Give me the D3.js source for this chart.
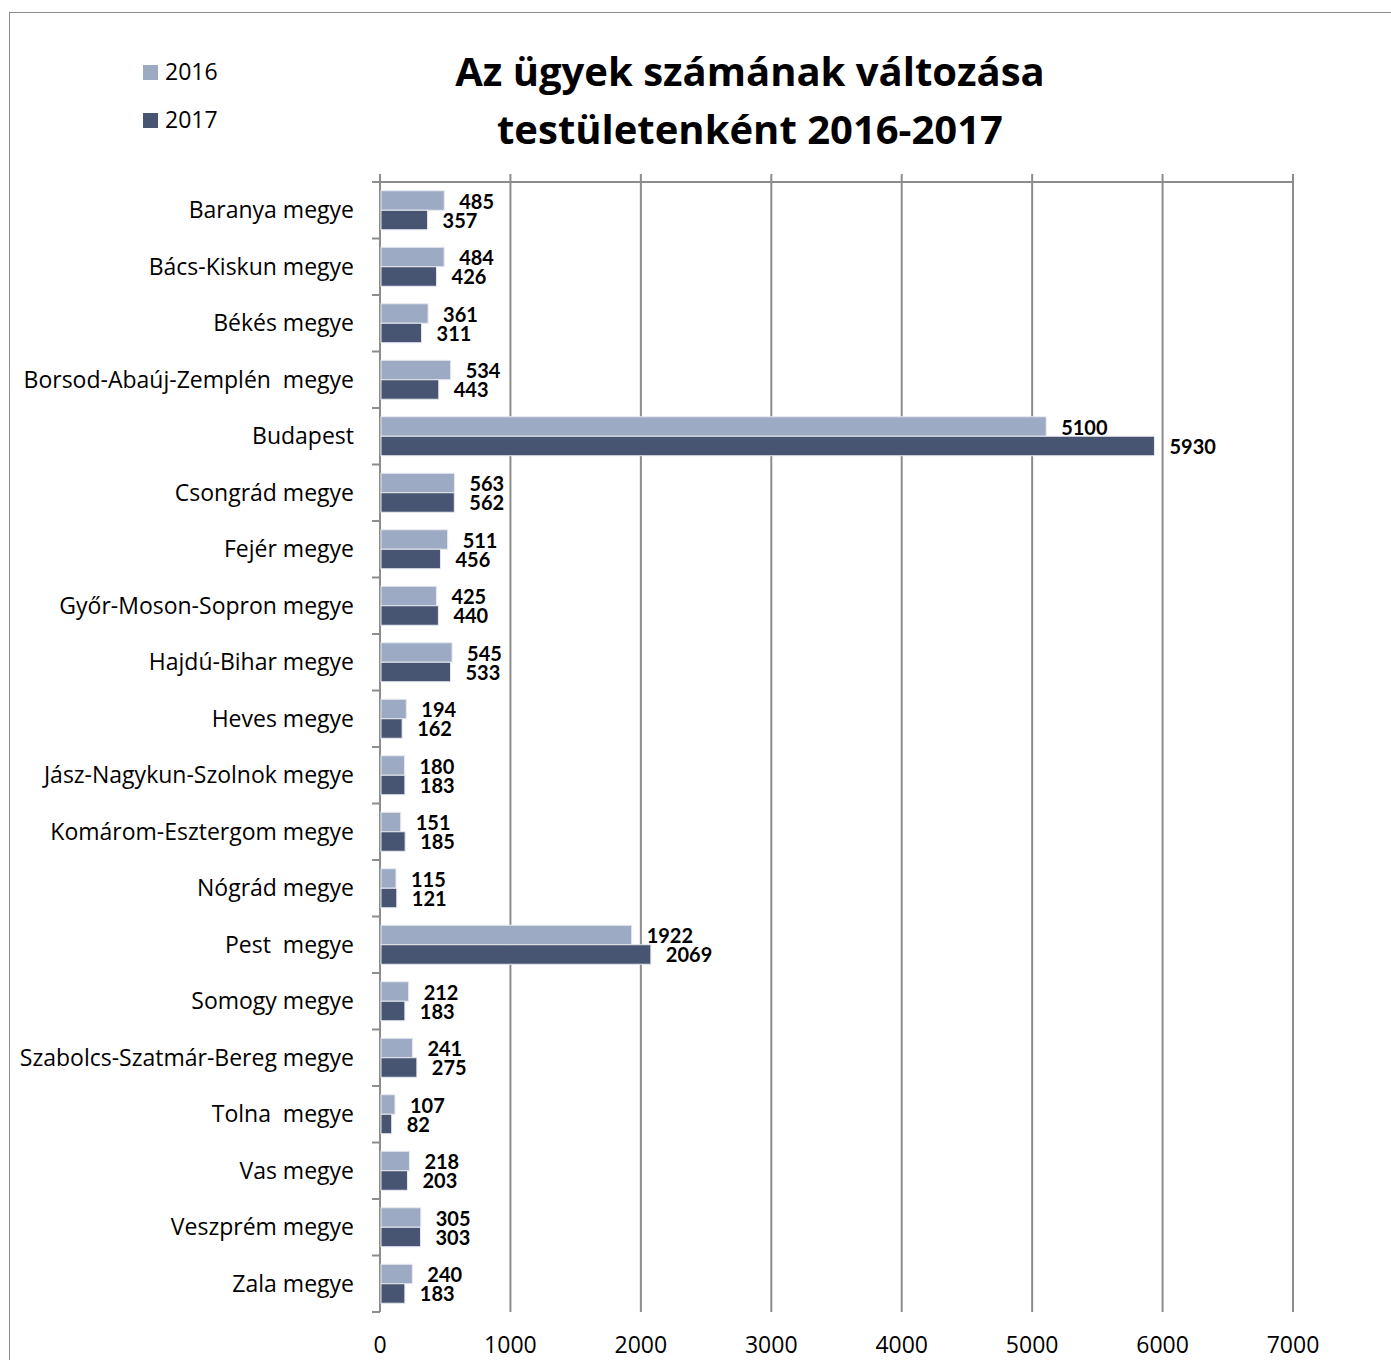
<!DOCTYPE html>
<html>
<head>
<meta charset="utf-8">
<script src="https://cdn.jsdelivr.net/npm/d3@7"></script>
<style>
    body { margin: 0; background: #fff; }
    svg text { font-family: "Open Sans", Lato, sans-serif; }
    .catLabel { font-size: 23px; fill: #000; white-space: pre; }
    .valLabel { font-family: Lato, sans-serif !important; font-size: 20px; font-weight: bold; fill: #000; }
    .tickLabel { font-size: 23px; fill: #000; }
    .chartTitle { font-size: 40px; font-weight: bold; fill: #000; }
    .legendText { font-size: 23px; fill: #000; }
</style>
</head>
<body>
<script>
//chart data
var categories = ["Baranya megye", "Bács-Kiskun megye", "Békés megye", "Borsod-Abaúj-Zemplén  megye",
    "Budapest", "Csongrád megye", "Fejér megye", "Győr-Moson-Sopron megye", "Hajdú-Bihar megye",
    "Heves megye", "Jász-Nagykun-Szolnok megye", "Komárom-Esztergom megye", "Nógrád megye",
    "Pest  megye", "Somogy megye", "Szabolcs-Szatmár-Bereg megye", "Tolna  megye", "Vas megye",
    "Veszprém megye", "Zala megye"];
var values2016 = [485, 484, 361, 534, 5100, 563, 511, 425, 545, 194, 180, 151, 115, 1922, 212, 241, 107, 218, 305, 240];
var values2017 = [357, 426, 311, 443, 5930, 562, 456, 440, 533, 162, 183, 185, 121, 2069, 183, 275, 82, 203, 303, 183];
var seriesNames = ["2016", "2017"];
var tickValues = [0, 1000, 2000, 3000, 4000, 5000, 6000, 7000];
var titleLines = ["Az ügyek számának változása", "testületenként 2016-2017"];

(function(){
    var width = 1391, height = 1360;
    var colors = ["#9daac3", "#475573"];

    var svg = d3.select("body").append("svg")
        .attr("width", width)
        .attr("height", height);

    //outer chart frame
    svg.append("rect")
        .attr("x", 9.5).attr("y", 12.5)
        .attr("width", 1400).attr("height", 1400)
        .attr("fill", "none")
        .attr("stroke", "#8c8c8c")
        .attr("stroke-width", 1);

    //plot area
    var left = 380, right = 1293, top = 182, bottom = 1312;

    var x = d3.scaleLinear().domain([0, 7000]).range([left, right]);
    var y = d3.scaleBand().domain(categories).range([top, bottom]).paddingInner(0.31).paddingOuter(0.155);
    var ySub = d3.scaleBand().domain(seriesNames).range([0, y.bandwidth()]);

    //vertical gridlines with top tick marks
    svg.selectAll(".grid")
        .data(tickValues)
        .enter()
        .append("line")
        .attr("x1", function(d){ return x(d); })
        .attr("x2", function(d){ return x(d); })
        .attr("y1", top - 8)
        .attr("y2", bottom)
        .attr("stroke", "#8c8c8c")
        .attr("stroke-width", 2);

    //top value-axis line
    svg.append("line")
        .attr("x1", left - 8).attr("x2", right + 1)
        .attr("y1", top).attr("y2", top)
        .attr("stroke", "#8c8c8c").attr("stroke-width", 2);

    //category tick marks
    var boundaries = d3.range(categories.length + 1).map(function(i){
        return top + i * y.step();
    });
    svg.selectAll(".catTick")
        .data(boundaries)
        .enter()
        .append("line")
        .attr("x1", left - 8).attr("x2", left)
        .attr("y1", function(d){ return d; })
        .attr("y2", function(d){ return d; })
        .attr("stroke", "#8c8c8c").attr("stroke-width", 2);

    //bottom tick labels
    svg.selectAll(".tickLabel")
        .data(tickValues)
        .enter()
        .append("text")
        .attr("class", "tickLabel")
        .attr("x", function(d){ return x(d); })
        .attr("y", 1353)
        .attr("text-anchor", "middle")
        .text(function(d){ return d; });

    //category labels
    svg.selectAll(".catLabel")
        .data(categories)
        .enter()
        .append("text")
        .attr("class", "catLabel")
        .attr("x", 354)
        .attr("y", function(d){ return y(d) + y.bandwidth() / 2 + 8; })
        .attr("text-anchor", "end")
        .text(function(d){ return d; });

    //bars
    var series = [values2016, values2017];
    series.forEach(function(vals, s){
        var g = svg.append("g");
        g.selectAll("rect")
            .data(vals)
            .enter()
            .append("rect")
            .attr("x", x(0) + 1)
            .attr("y", function(d, i){ return y(categories[i]) + ySub(seriesNames[s]); })
            .attr("width", function(d){ return x(d) - x(0); })
            .attr("height", ySub.bandwidth())
            .attr("fill", colors[s])
            .attr("stroke", "#e6e9ef")
            .attr("stroke-width", 1);

        g.selectAll("text")
            .data(vals)
            .enter()
            .append("text")
            .attr("class", "valLabel")
            .attr("x", function(d){ return x(d) + 16; })
            .attr("y", function(d, i){ return y(categories[i]) + ySub(seriesNames[s]) + ySub.bandwidth() / 2 + 8; })
            .text(function(d){ return d; });
    });

    //title
    svg.selectAll(".chartTitle")
        .data(titleLines)
        .enter()
        .append("text")
        .attr("class", "chartTitle")
        .attr("x", 750)
        .attr("y", function(d, i){ return 86 + i * 58; })
        .attr("text-anchor", "middle")
        .text(function(d){ return d; });

    //legend
    var legend = svg.selectAll(".legend")
        .data(seriesNames)
        .enter()
        .append("g")
        .attr("transform", function(d, i){ return "translate(143," + (65 + i * 48) + ")"; });
    legend.append("rect")
        .attr("width", 15).attr("height", 15)
        .attr("fill", function(d, i){ return colors[i]; });
    legend.append("text")
        .attr("class", "legendText")
        .attr("x", 22).attr("y", 15)
        .text(function(d){ return d; });
})();
</script>
</body>
</html>
